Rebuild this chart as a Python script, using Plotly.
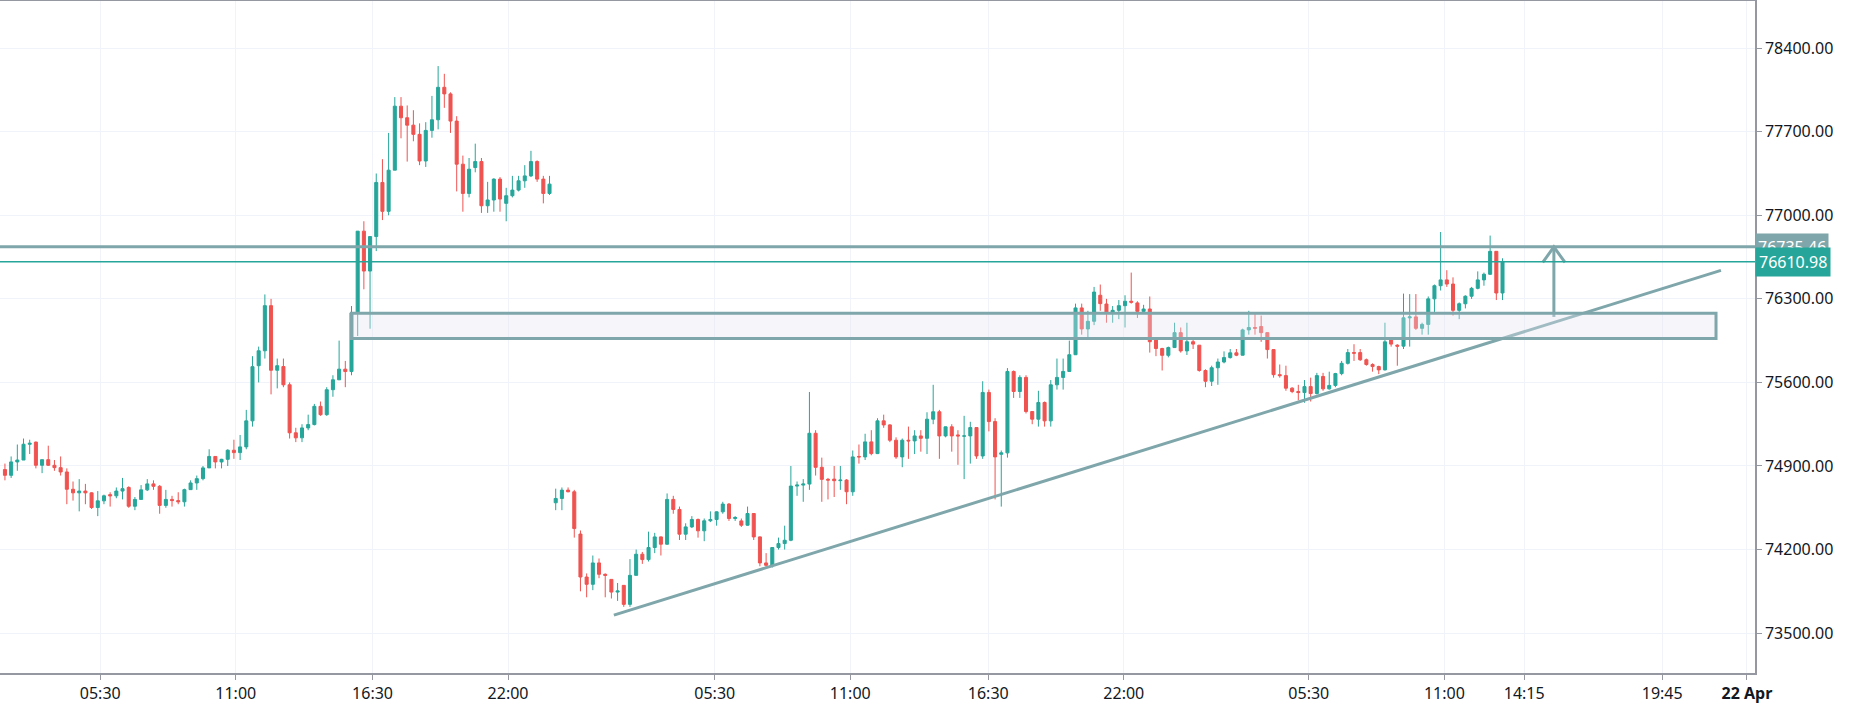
import plotly.graph_objects as go

# 15-minute candles (bar index is the x value)
opens = [
    74870, 74822, 74934, 74950, 75082, 75100, 74906, 74953, 74906, 74886,
    74850, 74705, 74675, 74690, 74675, 74552, 74608, 74660, 74650, 74690,
    74720, 74563, 74620, 74700, 74750, 74730, 74570, 74620, 74610, 74600,
    74702, 74758, 74794, 74884, 74980, 74934, 74956, 75032, 75012, 75060,
    75278, 75740, 75865, 76243, 75702, 75733, 75580, 75178, 75136, 75219,
    75247, 75400, 75330, 75539, 75622, 75711, 75691, 76183, 76867, 76533,
    76822, 77275, 77033, 77378, 77914, 77817, 77755, 77678, 77455, 77711,
    77800, 78072, 78017, 77789, 77428, 77183, 77400, 77450, 77080, 77128,
    77303, 77100, 77164, 77211, 77289, 77330, 77450, 77303, 77183,
    74592, 74628, 74698, 74684, 74330, 73970, 73909, 74088, 73993, 73950,
    73844, 73900, 73741, 73984, 74161, 74116, 74217, 74306, 74245, 74620,
    74536, 74329, 74390, 74452, 74357, 74441, 74452, 74516, 74581, 74460,
    74440, 74404, 74502, 74306, 74088, 74068, 74217, 74250, 74278, 74732,
    74740, 74749, 75174, 74889, 74788, 74790, 74777, 74782, 74684, 74980,
    74976, 75102, 75004, 75278, 75244, 75116, 74976, 75116, 75110, 75152,
    75132, 75292, 75354, 75152, 75228, 75160, 75150, 75152, 75222, 74984,
    75516, 75272, 74998, 75010, 75692, 75524, 75642, 75356, 75292, 75432,
    75278, 75580, 75642, 75692, 75832, 76224, 76048, 76112, 76330, 76257,
    76181, 76204, 76243, 76280, 76266, 76195, 76215, 75955, 75884, 75827,
    75892, 76017, 75864, 75941, 75912, 75700, 75610, 75723, 75771, 75808,
    75848, 75828, 76040, 76060, 76068, 76017, 75875, 75665, 75657, 75552,
    75524, 75515, 75565, 75507, 75650, 75546, 75575, 75674, 75760, 75850,
    75850, 75790, 75750, 75733, 75705, 75969, 75912, 75904, 76141, 76149,
    76053, 76086, 76300, 76410, 76459, 76424, 76204, 76259, 76322, 76388,
    76459, 76506, 76698, 76349,
]
highs = [
    74920, 74980, 75080, 75130, 75120, 75105, 74953, 75070, 74950, 74980,
    74880, 74770, 74790, 74750, 74680, 74690, 74660, 74680, 74720, 74800,
    74730, 74640, 74740, 74790, 74780, 74740, 74700, 74650, 74680, 74710,
    74780, 74820, 74900, 75040, 74980, 74960, 75040, 75120, 75160, 75370,
    75820, 75900, 76337, 76300, 75800, 75800, 75600, 75220, 75250, 75330,
    75420, 75440, 75560, 75660, 75950, 75780, 76240, 76867, 76950, 76822,
    77350, 77470, 77690, 77990, 77990, 77920, 77880, 77770, 77780, 78000,
    78250, 78185, 78030, 77830, 77500, 77480, 77600, 77480, 77280, 77310,
    77320, 77230, 77330, 77330, 77420, 77540, 77460, 77330, 77330,
    74710, 74720, 74720, 74700, 74360, 74000, 74150, 74125, 74000, 73950,
    73920, 73900, 74120, 74200, 74180, 74350, 74340, 74310, 74670, 74650,
    74560, 74420, 74480, 74460, 74460, 74520, 74520, 74600, 74590, 74480,
    74460, 74560, 74502, 74310, 74170, 74217, 74300, 74400, 74900, 74770,
    74790, 75520, 75200, 74970, 74800, 74900, 74900, 74790, 75030, 75080,
    75170, 75200, 75300, 75330, 75250, 75140, 75130, 75230, 75200, 75200,
    75350, 75580, 75370, 75230, 75250, 75200, 75320, 75270, 75222, 75610,
    75540, 75300, 75030, 75720, 75700, 75660, 75660, 75360, 75530, 75440,
    75620, 75800, 75800, 75950, 76260, 76260, 76200, 76400, 76420, 76300,
    76240, 76290, 76330, 76520, 76280, 76250, 76320, 75960, 75890, 75900,
    76100, 76060, 76100, 75960, 75912, 75710, 75740, 75800, 75860, 75880,
    75880, 76050, 76200, 76180, 76160, 76020, 75880, 75750, 75740, 75560,
    75580, 75620, 75640, 75680, 75680, 75690, 75680, 75780, 75880, 75920,
    75880, 75800, 75760, 75740, 76100, 75980, 75920, 76344, 76340, 76340,
    76100, 76320, 76420, 76860, 76540, 76480, 76270, 76330, 76400, 76530,
    76520, 76830, 76700, 76640,
]
lows = [
    74780, 74800, 74860, 74960, 75000, 74880, 74840, 74900, 74860, 74820,
    74580, 74610, 74520, 74580, 74540, 74480, 74580, 74560, 74630, 74620,
    74550, 74530, 74620, 74690, 74700, 74500, 74550, 74560, 74580, 74560,
    74700, 74700, 74780, 74900, 74880, 74880, 74900, 74960, 74950, 75040,
    75230, 75600, 75800, 75500, 75550, 75560, 75130, 75100, 75100, 75200,
    75240, 75320, 75320, 75480, 75620, 75560, 75660, 75989, 76380, 76050,
    76700, 76960, 77000, 77378, 77645, 77450, 77620, 77420, 77405, 77650,
    77720, 77900, 77690, 77200, 77030, 77150, 77360, 77020, 77020, 77030,
    77030, 76950, 77150, 77200, 77230, 77320, 77280, 77100, 77170,
    74530, 74530, 74680, 74300, 73850, 73800, 73860, 73960, 73800, 73790,
    73770, 73720, 73720, 73984, 74080, 74100, 74170, 74150, 74240, 74500,
    74280, 74280, 74380, 74300, 74270, 74430, 74400, 74500, 74440, 74440,
    74390, 74400, 74280, 74060, 74050, 74050, 74200, 74200, 74270, 74650,
    74600, 74700, 74820, 74600, 74620, 74640, 74700, 74580, 74650, 74920,
    74950, 74990, 75000, 75220, 75100, 74960, 74890, 74960, 75000, 75020,
    75000, 75250, 74960, 75140, 75020, 74910, 74790, 74920, 74960, 74960,
    75190, 74620, 74560, 74970, 75470, 75470, 75340, 75250, 75230, 75230,
    75230, 75540, 75540, 75690, 75830, 76000, 75970, 76080, 76200, 76100,
    76100, 76130, 76060, 76260, 76140, 76180, 75850, 75820, 75700, 75810,
    75890, 75850, 75830, 75880, 75690, 75560, 75570, 75580, 75760, 75800,
    75820, 75830, 76000, 76000, 75940, 75800, 75640, 75640, 75530, 75510,
    75450, 75430, 75440, 75500, 75530, 75540, 75560, 75660, 75750, 75780,
    75780, 75740, 75690, 75670, 75700, 75900, 75740, 75880, 75900, 76040,
    76000, 76000, 76190, 76370, 76400, 76160, 76130, 76220, 76300, 76380,
    76410, 76500, 76290, 76290,
]
closes = [
    74822, 74934, 74950, 75082, 75090, 74906, 74953, 74906, 74886, 74850,
    74705, 74675, 74690, 74675, 74552, 74608, 74650, 74650, 74690, 74710,
    74563, 74620, 74700, 74750, 74730, 74570, 74620, 74610, 74600, 74702,
    74758, 74794, 74884, 74980, 74934, 74956, 75032, 75012, 75060, 75278,
    75732, 75865, 76243, 75702, 75740, 75580, 75178, 75136, 75219, 75247,
    75400, 75330, 75539, 75622, 75711, 75691, 76183, 76867, 76533, 76822,
    77275, 77033, 77378, 77914, 77817, 77755, 77678, 77455, 77711, 77800,
    78072, 78017, 77789, 77428, 77183, 77386, 77450, 77080, 77128, 77303,
    77136, 77164, 77211, 77289, 77330, 77450, 77303, 77183, 77261,
    74628, 74698, 74684, 74376, 73970, 73909, 74088, 73993, 73984, 73844,
    73853, 73741, 73984, 74161, 74116, 74217, 74306, 74245, 74620, 74536,
    74329, 74390, 74452, 74357, 74441, 74452, 74516, 74581, 74460, 74469,
    74404, 74502, 74306, 74088, 74068, 74217, 74250, 74278, 74732, 74740,
    74749, 75174, 74889, 74788, 74782, 74777, 74782, 74684, 74976, 74976,
    75102, 75004, 75278, 75244, 75116, 74976, 75116, 75110, 75152, 75132,
    75292, 75354, 75152, 75228, 75152, 75152, 75152, 75222, 74984, 75516,
    75272, 74976, 75010, 75692, 75524, 75642, 75356, 75292, 75432, 75278,
    75580, 75642, 75692, 75832, 76224, 76048, 76112, 76357, 76260, 76181,
    76204, 76243, 76280, 76272, 76195, 76215, 75941, 75884, 75827, 75892,
    76017, 75864, 75941, 75921, 75700, 75610, 75723, 75771, 75808, 75848,
    75828, 76040, 76060, 76054, 76017, 75875, 75665, 75657, 75552, 75524,
    75515, 75565, 75507, 75657, 75546, 75575, 75674, 75760, 75850, 75845,
    75790, 75750, 75733, 75705, 75940, 75921, 75904, 76141, 76149, 76053,
    76086, 76300, 76410, 76459, 76424, 76204, 76259, 76322, 76388, 76459,
    76506, 76698, 76349, 76611,
]
bars = list(range(len(closes)))

# axis labels
price_ticks = [73500, 74200, 74900, 75600, 76300, 77000, 77700, 78400]
time_tick_pos = [15.4, 37.3, 59.4, 81.3, 114.7, 136.6, 158.9, 180.8, 210.7, 232.6, 245.5, 267.8, 281.5]
time_tick_text = ["05:30", "11:00", "16:30", "22:00", "05:30", "11:00", "16:30", "22:00",
                  "05:30", "11:00", "14:15", "19:45", "<b>22 Apr</b>"]

# drawings
level_price = 76735.46
last_price = 76610.98
zone_bars = [56.0, 276.5]
zone_prices = [75967, 76179]
trend_bars = [98.4, 277.3]
trend_prices = [73651, 76538]
arrow_bar = 250.3
arrow_prices = [76149, 76735]
chevron_bars = [arrow_bar - 1.8, arrow_bar, arrow_bar + 1.8]
chevron_prices = [76605, 76735, 76605]

UP = "#26a69a"
DOWN = "#ef5350"
DRAW = "#7fa6aa"

fig = go.Figure()
fig.add_trace(go.Candlestick(
    x=bars, open=opens, high=highs, low=lows, close=closes,
    increasing=dict(line=dict(color=UP, width=1), fillcolor=UP),
    decreasing=dict(line=dict(color=DOWN, width=1), fillcolor=DOWN),
    whiskerwidth=0, showlegend=False, hoverinfo="skip",
))

# support zone
fig.add_shape(type="rect", xref="x", yref="y",
              x0=zone_bars[0], x1=zone_bars[1], y0=zone_prices[0], y1=zone_prices[1],
              fillcolor="rgba(225,225,242,0.35)", line=dict(color=DRAW, width=3), layer="above")
# horizontal levels
fig.add_hline(y=level_price, line=dict(color=DRAW, width=3), layer="above")
fig.add_hline(y=last_price, line=dict(color=UP, width=1.5), layer="above")
# trend line
fig.add_trace(go.Scatter(x=trend_bars, y=trend_prices, mode="lines",
                         line=dict(color=DRAW, width=3), showlegend=False, hoverinfo="skip"))
# arrow: shaft + open chevron head
fig.add_trace(go.Scatter(x=[arrow_bar, arrow_bar], y=arrow_prices, mode="lines",
                         line=dict(color=DRAW, width=3), showlegend=False, hoverinfo="skip"))
fig.add_trace(go.Scatter(x=chevron_bars, y=chevron_prices, mode="lines",
                         line=dict(color=DRAW, width=3), showlegend=False, hoverinfo="skip"))

# price labels on the right axis
fig.add_annotation(x=1, y=level_price, xref="paper", yref="y", xanchor="left", yanchor="middle",
                   text=f"{level_price:.2f}", showarrow=False, bgcolor=DRAW,
                   font=dict(color="white", size=16, family="Noto Sans"), borderpad=2)
fig.add_annotation(x=1, y=last_price, xref="paper", yref="y", xanchor="left", yanchor="middle",
                   text=f"{last_price:.2f}", showarrow=False, bgcolor=UP,
                   font=dict(color="white", size=16, family="Noto Sans"), borderpad=3)

fig.update_layout(
    width=1849, height=710,
    margin=dict(l=0, r=94, t=1, b=37),
    paper_bgcolor="white", plot_bgcolor="white",
    font=dict(family="Noto Sans", size=16, color="#131722"),
    xaxis=dict(range=[-0.8, 282.8], rangeslider=dict(visible=False),
               tickmode="array", tickvals=time_tick_pos, ticktext=time_tick_text,
               showgrid=True, gridcolor="#f0f3fa", ticks="outside", ticklen=5,
               tickcolor="#9598a1", showline=True, linecolor="#9598a1", linewidth=1.5,
               mirror=True, zeroline=False),
    yaxis=dict(range=[73166, 78795], side="right", tickmode="array",
               tickvals=price_ticks, ticktext=[f"{p:.2f}" for p in price_ticks],
               showgrid=True, gridcolor="#f0f3fa", ticks="outside", ticklen=5,
               tickcolor="#9598a1", showline=True, linecolor="#9598a1", linewidth=1.5,
               zeroline=False),
)

fig.write_html("out.html", config={"displayModeBar": False})

# drop the default page margin so the figure sits flush in the window
with open("out.html", encoding="utf-8") as f:
    page = f.read()
page = page.replace("<body>", '<body style="margin:0">', 1)
with open("out.html", "w", encoding="utf-8") as f:
    f.write(page)
